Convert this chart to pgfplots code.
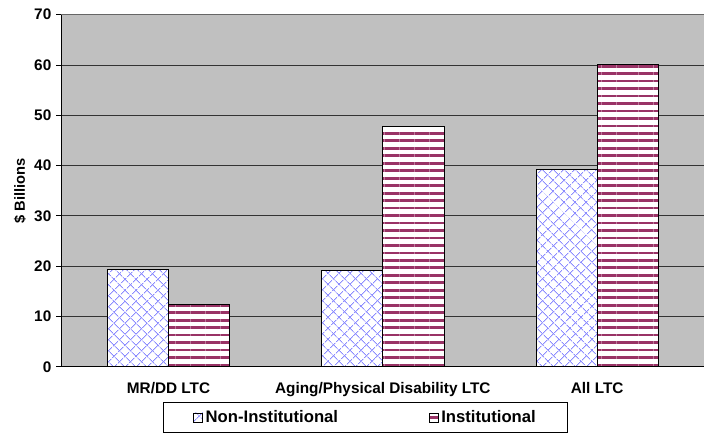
\documentclass[border=0pt]{standalone}
\usepackage{pgfplots}
\pgfplotsset{compat=1.18}
\usepackage{fontspec}
\setmainfont{Liberation Sans}
\usetikzlibrary{patterns.meta}
\definecolor{plotgray}{HTML}{C0C0C0}
\definecolor{hatchblue}{HTML}{8C8CFF}
\definecolor{stripe}{HTML}{993366}

\tikzset{
  noninst/.style={fill=white, draw=black, line width=0.6pt,
    postaction={pattern={Lines[angle=45, distance=6.4pt, line width=0.7pt]}, pattern color=hatchblue},
    postaction={pattern={Lines[angle=-45, distance=6.4pt, line width=0.7pt]}, pattern color=hatchblue}},
  inst/.style={fill=white, draw=black, line width=0.6pt,
    postaction={pattern={Lines[angle=0, distance=5.6pt, line width=2.1pt]}, pattern color=stripe}},
}

\begin{document}
\begin{tikzpicture}
\begin{axis}[
    name=ax,
    scale only axis,
    width=482pt, height=264pt,
    ybar=0pt, bar width=0.285,
    xmin=-0.5, xmax=2.5,
    ymin=0, ymax=70,
    ytick={0,10,...,70},
    xtick={0,1,2},
    xticklabels={MR/DD LTC, Aging/Physical Disability LTC, All LTC},
    extra x ticks={-0.5,0.5,1.5,2.5},
    extra x tick labels={},
    extra x tick style={major tick length=4pt, tick style={black, line width=0.6pt}},
    major x tick style={draw=none},
    axis x line*=bottom, axis y line*=left,
    axis line style={black, line width=0.8pt, -},
    axis background/.style={fill=plotgray},
    ymajorgrids, major grid style={black!80, line width=0.6pt},
    tick align=outside, major tick length=4pt,
    tick style={black, line width=0.6pt},
    tick label style={font=\bfseries\fontsize{11.5}{13}\selectfont},
    xticklabel style={yshift=-4pt},
    /pgf/number format/assume math mode=true,
    ylabel={\$ Billions},
    ylabel style={font=\bfseries\fontsize{11}{13}\selectfont,
      at={(axis description cs:0,0.5)}, anchor=center, yshift=31pt},
    legend style={at={(0.4735,-0.1)}, anchor=north, legend columns=2,
      draw=black, line width=0.6pt, font=\bfseries\fontsize{12.5}{15}\selectfont,
      /tikz/every even column/.append style={column sep=66pt},
      inner xsep=22pt, inner ysep=4pt},
    legend image code/.code={\draw[#1, line width=0.4pt] (0pt,-3.5pt) rectangle (7pt,3.5pt);},
    clip=false,
]
\addplot[noninst] coordinates {(0,19.3) (1,19.1) (2,39.2)};
\addplot[inst] coordinates {(0,12.4) (1,47.7) (2,60.2)};
\legend{Non-Institutional, Institutional}
\draw[black!60, line width=0.6pt] (axis cs:-0.5,70) -- (axis cs:2.5,70);
\end{axis}
\pgfresetboundingbox
\path[use as bounding box] ([xshift=-46pt,yshift=-49pt]ax.south west) rectangle ([xshift=2pt,yshift=11pt]ax.north east);
\end{tikzpicture}
\end{document}
